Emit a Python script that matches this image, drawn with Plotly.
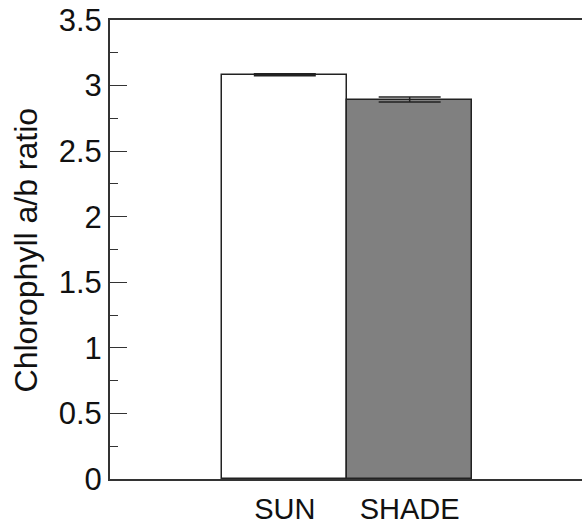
import plotly.graph_objects as go

categories = ["SUN", "SHADE"]
values = [3.083, 2.893]
errors = [0.008, 0.019]
colors = ["#ffffff", "#808080"]
y_ticks = [0, 0.5, 1, 1.5, 2, 2.5, 3, 3.5]
y_ticklabels = ["0", "0.5", "1", "1.5", "2", "2.5", "3", "3.5"]

fig = go.Figure()
fig.add_trace(go.Bar(
    x=categories, y=values,
    marker=dict(color=colors, line=dict(color="#222222", width=1.5)),
    error_y=dict(type="data", array=errors, color="#222222", thickness=1.5, width=31),
    width=1.0,
))

fig.update_layout(
    width=582, height=525,
    margin=dict(l=110, r=0, t=20, b=44),
    paper_bgcolor="white", plot_bgcolor="white",
    showlegend=False,
    bargap=0,
    font=dict(family="Liberation Sans, Arial, sans-serif", color="#111111"),
    annotations=[dict(
        text="Chlorophyll a/b ratio", textangle=-90,
        xref="paper", yref="paper", x=-0.178, y=0.5,
        xanchor="center", yanchor="middle", showarrow=False,
        font=dict(size=32),
    )],
)
fig.update_xaxes(
    range=[-1.4, 2.38],
    showline=True, linecolor="#333333", linewidth=2, mirror=True,
    showgrid=False, ticks="", tickfont=dict(size=29),
    ticklabelstandoff=3,
)
fig.update_yaxes(
    range=[0, 3.5], tickvals=y_ticks, ticktext=y_ticklabels,
    showline=True, linecolor="#333333", linewidth=2,
    showgrid=False, zeroline=False,
    ticks="inside", ticklen=17, tickwidth=1, tickcolor="#333333",
    minor=dict(dtick=0.25, ticks="inside", ticklen=8, tickwidth=1, tickcolor="#333333"),
    tickfont=dict(size=31), ticklabelstandoff=0, ticklabeloverflow="allow",
)

fig.write_html("out.html", config={"displayModeBar": False},
               post_script="document.body.style.margin='0';")
